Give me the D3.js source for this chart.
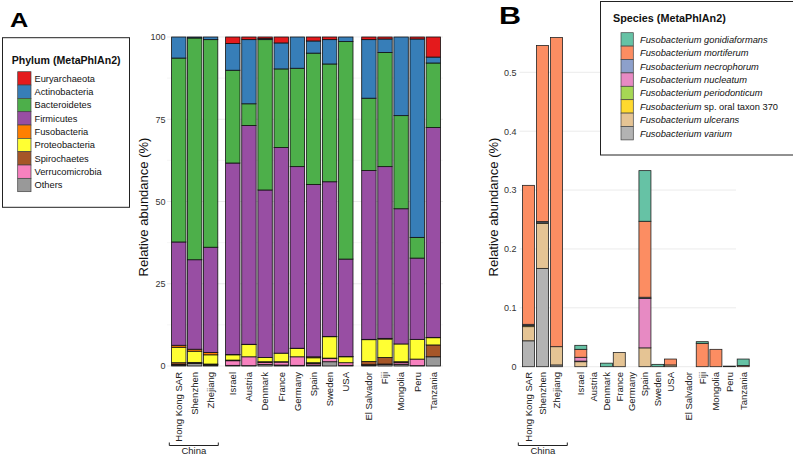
<!DOCTYPE html>
<html>
<head>
<meta charset="utf-8">
<script src="https://cdn.jsdelivr.net/npm/d3@7"></script>
<style>
  html, body { margin: 0; padding: 0; background: #fff; }
  svg { display: block; font-family: "Liberation Sans", Arial, sans-serif; }
</style>
</head>
<body>
<svg id="chart" width="793" height="456"></svg>
<script>
// ---------------- DATA ----------------
const countries = ["Hong Kong SAR","Shenzhen","Zhejiang","Israel","Austria","Denmark","France","Germany","Spain","Sweden","USA","El Salvador","Fiji","Mongolia","Peru","Tanzania"];
const groupChina = ["Hong Kong SAR","Shenzhen","Zhejiang"];
const groupWest = ["Israel","Austria","Denmark","France","Germany","Spain","Sweden","USA"];
const groupOther = ["El Salvador","Fiji","Mongolia","Peru","Tanzania"];

// Panel A: phylum relative abundance (%), one value per country
const phyla = ["Euryarchaeota","Actinobacteria","Bacteroidetes","Firmicutes","Fusobacteria","Proteobacteria","Spirochaetes","Verrucomicrobia","Others"];
const phylumColors = ["#E41A1C","#377EB8","#4DAF4A","#984EA3","#FF7F00","#FFFF33","#A65628","#F781BF","#999999"];
const euryarchaeota   = [0,0,0,2.0,0.8,0.5,1.8,0,1.2,0.8,0,0.8,0.6,0,0.6,6.1];
const actinobacteria  = [6.4,0.3,0.8,8.1,19.5,0.3,7.9,9.5,3.7,7.4,1.4,17.8,4.1,23.9,60.3,1.8];
const bacteroidetes   = [55.9,67.4,63.1,28.2,6.6,45.7,23.9,29.9,39.9,35.8,66.1,22.0,34.7,28.3,6.3,19.6];
const firmicutes      = [31.4,27.2,32.0,58.2,66.5,50.9,62.5,55.2,52.4,47.0,29.6,51.3,52.2,41.1,24.7,63.8];
const fusobacteria    = [0.6,0.6,0.7,0.1,0.1,0,0,0.1,0.3,0.1,0.1,0.1,0.2,0,0,0.1];
const proteobacteria  = [4.7,3.4,2.8,1.6,3.7,1.3,2.6,2.5,1.5,6.5,1.8,6.6,5.6,5.4,6.0,2.2];
const spirochaetes    = [0.5,0.2,0.1,0.2,0,0.2,0.1,0,0.2,0.1,0,1.0,2.0,0.3,0,3.6];
const verrucomicrobia = [0.2,0.1,0.2,1.4,2.7,0.6,0.9,2.6,0.5,1.0,0.8,0.1,0.1,0.5,2.0,0];
const othersPhylum    = [0.3,0.8,0.3,0.2,0.1,0.5,0.3,0.2,0.3,1.3,0.2,0.3,0.5,0.5,0.1,2.8];
const phylumValues = [euryarchaeota,actinobacteria,bacteroidetes,firmicutes,fusobacteria,proteobacteria,spirochaetes,verrucomicrobia,othersPhylum];
const ticksA = [0,25,50,75,100];
const minorTicksA = [12.5,37.5,62.5,87.5];

// Panel B: Fusobacterium species relative abundance (%)
const species = ["gonidiaformans","mortiferum","necrophorum","nucleatum","periodonticum","sp. oral taxon 370","ulcerans","varium"];
const speciesColors = ["#66C2A5","#FC8D62","#8DA0CB","#E78AC3","#A6D854","#FFD92F","#E5C494","#B3B3B3"];
const gonidiaformans = [0,0,0,0.0068,0,0.006,0,0,0.086,0.004,0,0,0.0028,0,0,0.011];
const mortiferum     = [0.236,0.299,0.525,0.0135,0,0,0,0,0.129,0,0.010,0,0.0397,0.0295,0.001,0.002];
const necrophorum    = [0.002,0.002,0,0,0,0,0,0,0.002,0,0,0,0,0,0,0];
const nucleatum      = [0,0,0,0.0065,0,0,0,0,0.084,0,0,0,0,0,0,0];
const periodonticum  = [0,0,0,0.001,0,0,0,0,0,0,0,0,0,0,0,0];
const oralTaxon370   = [0.002,0.001,0,0,0,0,0,0,0,0,0,0,0,0,0,0];
const ulcerans       = [0.024,0.0765,0.031,0.0085,0,0,0.024,0,0.032,0,0.003,0,0,0,0,0];
const varium         = [0.044,0.167,0.003,0,0,0,0,0,0,0,0,0,0,0,0,0];
const speciesValues = [gonidiaformans,mortiferum,necrophorum,nucleatum,periodonticum,oralTaxon370,ulcerans,varium];
const ticksB = [0,0.1,0.2,0.3,0.4,0.5];
const tickLabelsB = ["0","0.1","0.2","0.3","0.4","0.5"];

// ---------------- DRAW ----------------
const svg = d3.select("#chart");
const groups = [groupChina, groupWest, groupOther];

function buildStack(keys, arrays) {
  const rows = countries.map((c, i) => {
    const r = { country: c };
    keys.forEach((k, j) => r[k] = arrays[j][i]);
    return r;
  });
  // stack bottom-up in reverse legend order
  const stack = d3.stack().keys(keys.slice().reverse());
  return stack(rows);
}

function drawPanel(opt) {
  const g = svg.append("g");
  const y = d3.scaleLinear().domain(opt.domain).range(opt.yRange);
  const xScales = groups.map((grp, gi) => d3.scalePoint().domain(grp).range(opt.groupRanges[gi]));
  const xc = c => { for (const s of xScales) if (s.domain().includes(c)) return s(c); };

  // gridlines
  g.selectAll("line.minor").data(opt.minor).join("line")
    .attr("x1", opt.gridX[0]).attr("x2", opt.gridX[1])
    .attr("y1", d => y(d)).attr("y2", d => y(d))
    .attr("stroke", "#F0F0F0").attr("stroke-width", 0.6);
  g.selectAll("line.major").data(opt.ticks).join("line")
    .attr("x1", opt.gridX[0]).attr("x2", opt.gridX[1])
    .attr("y1", d => y(d)).attr("y2", d => y(d))
    .attr("stroke", "#EBEBEB").attr("stroke-width", 1);

  // y axis labels via d3 axis
  const axis = d3.axisLeft(y).tickValues(opt.ticks).tickFormat((d, i) => opt.tickLabels[i]).tickSize(0).tickPadding(0);
  const ag = g.append("g").attr("transform", `translate(${opt.axisX},0)`).call(axis);
  ag.select(".domain").remove();
  ag.selectAll("text").attr("font-size", 9).attr("fill", "#333").attr("font-family", "Liberation Sans, Arial, sans-serif");

  // bars
  const series = buildStack(opt.keys, opt.values);
  const colorOf = k => opt.colors[opt.keys.indexOf(k)];
  series.forEach(s => {
    g.append("g").selectAll("rect").data(s.filter(d => d[1] - d[0] > 0)).join("rect")
      .attr("x", d => xc(d.data.country) - opt.barW / 2)
      .attr("width", opt.barW)
      .attr("y", d => y(d[1]))
      .attr("height", d => y(d[0]) - y(d[1]))
      .attr("fill", colorOf(s.key))
      .attr("stroke", opt.stroke).attr("stroke-width", opt.strokeW);
  });

  // x labels
  g.selectAll("text.xl").data(countries).join("text")
    .attr("transform", c => `translate(${xc(c) + 3.3},${opt.labelTop}) rotate(-90)`)
    .attr("text-anchor", "end").attr("font-size", 9.5).attr("fill", "#222")
    .text(c => c);

  // China bracket
  const br = opt.bracket;
  g.append("path")
    .attr("d", `M${br[0]},${br[2] - 3}V${br[2]}H${br[1]}V${br[2] - 3}`)
    .attr("fill", "none").attr("stroke", "#222").attr("stroke-width", 1);
  g.append("text").attr("x", (br[0] + br[1]) / 2).attr("y", br[2] + 8)
    .attr("text-anchor", "middle").attr("font-size", 9.5).attr("fill", "#222").text("China");

  // axis title
  g.append("text")
    .attr("transform", `translate(${opt.titleX},${opt.titleY}) rotate(-90)`)
    .attr("text-anchor", "middle").attr("font-size", 13).attr("fill", "#111")
    .text("Relative abundance (%)");
  return g;
}

drawPanel({
  domain: [0, 100], yRange: [366, 37],
  groupRanges: [[178.8, 210.6], [232.8, 345.8], [368.9, 433.3]],
  gridX: [167, 443], ticks: ticksA, minor: minorTicksA,
  tickLabels: ticksA.map(String), axisX: 165.5,
  keys: phyla, values: phylumValues, colors: phylumColors,
  barW: 14.4, stroke: "#111", strokeW: 0.8,
  labelTop: 372, bracket: [169.3, 218.3, 445.5],
  titleX: 147.5, titleY: 207
});

drawPanel({
  domain: [0, 0.5], yRange: [366.7, 72.3],
  groupRanges: [[528.5, 556.6], [580.8, 670.6], [688.6, 743.2]],
  gridX: [519.5, 736], ticks: ticksB, minor: [],
  tickLabels: tickLabelsB, axisX: 516.5,
  keys: species, values: speciesValues, colors: speciesColors,
  barW: 12, stroke: "#222", strokeW: 0.8,
  labelTop: 372, bracket: [518.3, 567.3, 445.5],
  titleX: 497.5, titleY: 207
});

// Panel letters
svg.append("text").attr("transform", "translate(10,26.7) scale(1.3,1)")
  .attr("font-size", 19.5).attr("font-weight", "bold").attr("fill", "#000").text("A");
svg.append("text").attr("transform", "translate(499,24.3) scale(1.3,1)")
  .attr("font-size", 23.5).attr("font-weight", "bold").attr("fill", "#000").text("B");

// Legend A
const legA = svg.append("g");
legA.append("rect").attr("x", 2.5).attr("y", 37.7).attr("width", 127).attr("height", 169.6)
  .attr("fill", "#fff").attr("stroke", "#222").attr("stroke-width", 1);
legA.append("text").attr("x", 11.7).attr("y", 64.3).attr("font-size", 10.6).attr("font-weight", "bold")
  .attr("fill", "#111").text("Phylum (MetaPhlAn2)");
const rowA = d3.scaleBand().domain(phyla).range([71.7, 71.7 + 13.33 * phyla.length]);
legA.selectAll("rect.sw").data(phyla).join("rect")
  .attr("x", 17.7).attr("y", d => rowA(d)).attr("width", 13.3).attr("height", rowA.bandwidth())
  .attr("fill", (d, i) => phylumColors[i]).attr("stroke", "#444").attr("stroke-width", 0.7);
legA.selectAll("text.lab").data(phyla).join("text")
  .attr("x", 34.5).attr("y", d => rowA(d) + rowA.bandwidth() / 2 + 3.3)
  .attr("font-size", 9.3).attr("fill", "#111").text(d => d);

// Legend B
const legB = svg.append("g");
legB.append("rect").attr("x", 600.5).attr("y", 1.5).attr("width", 200).attr("height", 153.5)
  .attr("fill", "#fff").attr("stroke", "#222").attr("stroke-width", 1);
legB.append("text").attr("x", 613).attr("y", 22).attr("font-size", 10.8).attr("font-weight", "bold")
  .attr("fill", "#111").text("Species (MetaPhlAn2)");
const rowB = d3.scaleBand().domain(species).range([32.7, 32.7 + 13.4 * species.length]);
legB.selectAll("rect.sw").data(species).join("rect")
  .attr("x", 621).attr("y", d => rowB(d)).attr("width", 12.3).attr("height", rowB.bandwidth())
  .attr("fill", (d, i) => speciesColors[i]).attr("stroke", "#444").attr("stroke-width", 0.7);
const labB = legB.selectAll("text.lab").data(species).join("text")
  .attr("x", 640).attr("y", d => rowB(d) + rowB.bandwidth() / 2 + 3.3)
  .attr("font-size", 9.3).attr("fill", "#111");
labB.append("tspan").attr("font-style", "italic").text("Fusobacterium");
labB.append("tspan").attr("font-style", d => d.startsWith("sp.") ? "normal" : "italic").text(d => " " + d);
</script>
</body>
</html>
